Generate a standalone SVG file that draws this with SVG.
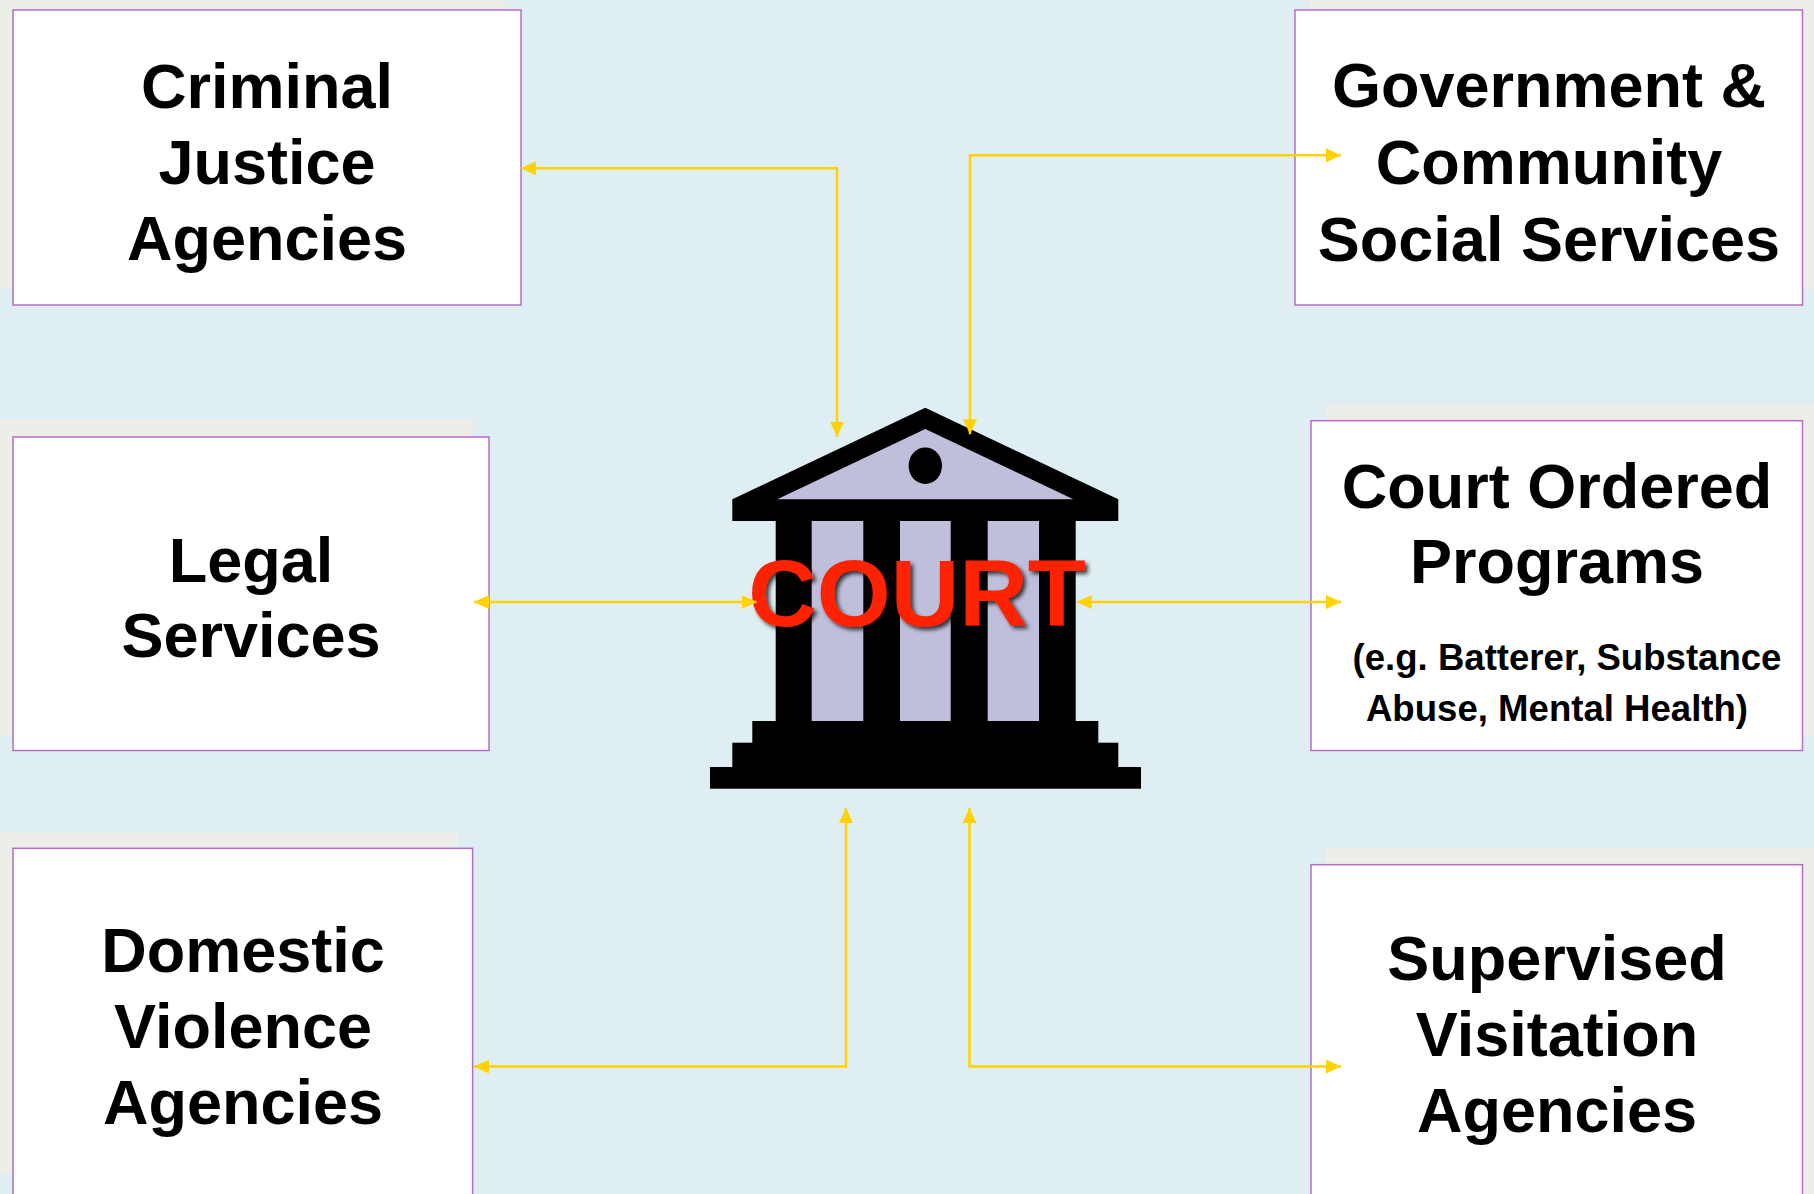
<svg xmlns="http://www.w3.org/2000/svg" width="1814" height="1194" viewBox="0 0 1814 1194">
<defs>
<style>
.bg{fill:#DFEEF2}
.beige{fill:#EEEEE8}
.box{fill:#FFFFFF;stroke:#B56CC8;stroke-width:1.5}
.lbl{font-family:"Liberation Sans",Arial,sans-serif;font-weight:bold;font-size:63px;fill:#000;text-anchor:middle}
.sub{font-family:"Liberation Sans",Arial,sans-serif;font-weight:bold;font-size:36.6px;fill:#000;text-anchor:middle}
.con{fill:none;stroke:#FFD200;stroke-width:2.5;marker-start:url(#ah);marker-end:url(#ah)}
.blk{fill:#000}
.lav{fill:#BFBFDB}
.court{font-family:"Liberation Sans",Arial,sans-serif;font-weight:bold;font-size:95px;fill:#FF2200;text-anchor:middle}
</style>
<marker id="ah" markerUnits="userSpaceOnUse" markerWidth="16" markerHeight="14" refX="15" refY="7" orient="auto-start-reverse">
<path d="M0,0 L15,7 L0,14 Z" fill="#FFD200"/>
</marker>
<filter id="sh" x="-10%" y="-20%" width="130%" height="150%">
<feDropShadow dx="3" dy="3" stdDeviation="2" flood-color="#000" flood-opacity="0.75"/>
</filter>
</defs>

<rect class="bg" x="0" y="0" width="1814" height="1194"/>
<rect class="beige" x="0" y="0" width="505" height="289"/>
<rect class="beige" x="1310" y="0" width="504" height="289"/>
<rect class="beige" x="0" y="420" width="473" height="316"/>
<rect class="beige" x="1326" y="405.5" width="488" height="330.5"/>
<rect class="beige" x="0" y="832" width="458" height="342"/>
<rect class="beige" x="1326" y="848" width="488" height="346"/>

<g id="criminal-justice">
<rect class="box" x="13" y="10" width="508" height="295"/>
<text class="lbl" x="267" y="108">Criminal</text>
<text class="lbl" x="267" y="184">Justice</text>
<text class="lbl" x="267" y="260">Agencies</text>
</g>

<g id="government">
<rect class="box" x="1295" y="10" width="507.5" height="295"/>
<text class="lbl" x="1549" y="107">Government &amp;</text>
<text class="lbl" x="1549" y="184">Community</text>
<text class="lbl" x="1549" y="261">Social Services</text>
</g>

<g id="legal">
<rect class="box" x="13" y="437" width="476" height="313.5"/>
<text class="lbl" x="251" y="582">Legal</text>
<text class="lbl" x="251" y="657">Services</text>
</g>

<g id="court-ordered">
<rect class="box" x="1311" y="420.7" width="491.5" height="329.8"/>
<text class="lbl" x="1557" y="507.5">Court Ordered</text>
<text class="lbl" x="1557" y="582.5">Programs</text>
<text class="sub" x="1567" y="670">(e.g. Batterer, Substance</text>
<text class="sub" x="1557" y="720.5">Abuse, Mental Health)</text>
</g>

<g id="domestic-violence">
<rect class="box" x="13" y="848.3" width="459.6" height="360"/>
<text class="lbl" x="243" y="972">Domestic</text>
<text class="lbl" x="243" y="1048">Violence</text>
<text class="lbl" x="243" y="1124">Agencies</text>
</g>

<g id="supervised">
<rect class="box" x="1311" y="864.7" width="491.5" height="360"/>
<text class="lbl" x="1557" y="980">Supervised</text>
<text class="lbl" x="1557" y="1056">Visitation</text>
<text class="lbl" x="1557" y="1132">Agencies</text>
</g>

<g id="court">
<polygon class="blk" points="925.3,407.7 1118.3,499.3 1118.3,521 732.3,521 732.3,499.3"/>
<polygon class="lav" points="925.3,429 1073.3,499.3 777.3,499.3"/>
<ellipse class="blk" cx="925.3" cy="465.7" rx="16.7" ry="18.3"/>
<rect class="blk" x="775.7" y="520" width="300" height="202"/>
<rect class="lav" x="811.7" y="521" width="51.6" height="200"/>
<rect class="lav" x="900" y="521" width="50.7" height="200"/>
<rect class="lav" x="987.7" y="521" width="51.3" height="200"/>
<rect class="blk" x="752.3" y="721" width="346" height="22"/>
<rect class="blk" x="732.3" y="742.7" width="386" height="24.5"/>
<rect class="blk" x="710" y="767" width="431" height="21.7"/>
<text class="court" x="917" y="625.7" filter="url(#sh)">COURT</text>
</g>

<g id="connectors">
<path class="con" d="M521,168.3 H837 V436.7"/>
<path class="con" d="M970,434.3 V155.3 H1341"/>
<path class="con" d="M474,602 H756.7"/>
<path class="con" d="M1076.7,602 H1341"/>
<path class="con" d="M846,808 V1066.5 H474"/>
<path class="con" d="M969.5,808 V1066.5 H1341"/>
</g>
</svg>
